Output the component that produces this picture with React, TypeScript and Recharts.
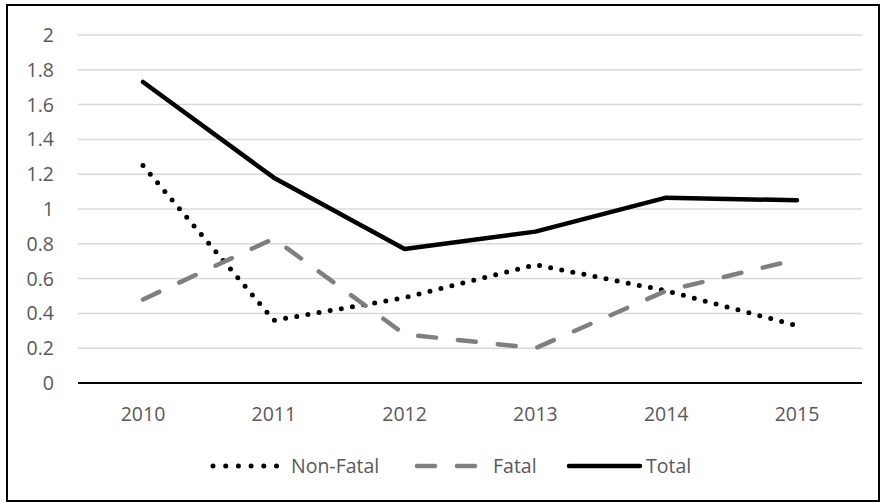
import { LineChart, Line, XAxis, YAxis, CartesianGrid, ReferenceLine } from "recharts";

const anos = ["2010", "2011", "2012", "2013", "2014", "2015"];
const naoFatal = [1.25, 0.36, 0.49, 0.68, 0.53, 0.33];
const fatal = [0.48, 0.83, 0.28, 0.2, 0.53, 0.71];
const total = [1.73, 1.18, 0.77, 0.87, 1.065, 1.05];
const ticksY = [0, 0.2, 0.4, 0.6, 0.8, 1, 1.2, 1.4, 1.6, 1.8, 2];

const dados = anos.map((ano, i) => ({
  ano,
  naoFatal: naoFatal[i],
  fatal: fatal[i],
  total: total[i],
}));

const fonte = "'Open Sans', Lato, sans-serif";
const cinzaTexto = "#595959";
const tamanho = 19.5;

function Legenda() {
  return (
    <svg width={860} height={44} style={{ display: "block", overflow: "visible" }}>
      <g transform="translate(0,22)">
        <line x1={213} x2={278} y1={0} y2={0} stroke="#000" strokeWidth={5} strokeDasharray="0 12.7" strokeLinecap="round" />
        <text x={291} y={0} dy="0.355em" fontSize={tamanho} fill={cinzaTexto} fontFamily={fonte}>Non-Fatal</text>
        <line x1={417} x2={476} y1={0} y2={0} stroke="#7f7f7f" strokeWidth={4.5} strokeDasharray="18 22" strokeLinecap="round" />
        <text x={493} y={0} dy="0.355em" fontSize={tamanho} fill={cinzaTexto} fontFamily={fonte}>Fatal</text>
        <line x1={569} x2={640} y1={0} y2={0} stroke="#000" strokeWidth={4.5} strokeLinecap="round" />
        <text x={646} y={0} dy="0.355em" fontSize={tamanho} fill={cinzaTexto} fontFamily={fonte}>Total</text>
      </g>
    </svg>
  );
}

export default function App() {
  return (
    <div style={{ position: "absolute", left: 0, top: 0, width: 881, height: 503, background: "#fff" }}>
      <div
        style={{
          position: "absolute",
          left: 6,
          top: 4,
          width: 874,
          height: 498,
          border: "2px solid #000",
          boxSizing: "border-box",
        }}
      />
      <div style={{ position: "absolute", left: 0, top: 0 }}>
        <LineChart width={881} height={503} data={dados} margin={{ top: 35, right: 19, left: 18, bottom: 80 }}>
          <CartesianGrid vertical={false} stroke="#d9d9d9" strokeWidth={1.5} />
          <XAxis
            dataKey="ano"
            axisLine={false}
            tickLine={false}
            tickSize={0}
            tickMargin={24}
            height={40}
            padding={{ left: 65, right: 65 }}
            tick={{ fontSize: tamanho, fill: cinzaTexto, fontFamily: fonte }}
          />
          <YAxis
            domain={[0, 2]}
            ticks={ticksY}
            interval={0}
            axisLine={false}
            tickLine={false}
            tickSize={0}
            tickMargin={24}
            width={60}
            tick={{ fontSize: tamanho, fill: cinzaTexto, fontFamily: fonte }}
          />
          <ReferenceLine y={0} stroke="#000" strokeWidth={1.8} />
          <Line
            dataKey="naoFatal"
            name="Non-Fatal"
            stroke="#000"
            strokeWidth={5}
            strokeDasharray="0 11.3"
            strokeLinecap="round"
            dot={false}
            activeDot={false}
            isAnimationActive={false}
          />
          <Line
            dataKey="fatal"
            name="Fatal"
            stroke="#7f7f7f"
            strokeWidth={4.5}
            strokeDasharray="18 22"
            strokeLinecap="round"
            dot={false}
            activeDot={false}
            isAnimationActive={false}
          />
          <Line
            dataKey="total"
            name="Total"
            stroke="#000"
            strokeWidth={4.5}
            strokeLinecap="round"
            strokeLinejoin="round"
            dot={false}
            activeDot={false}
            isAnimationActive={false}
          />
        </LineChart>
      </div>
      <div style={{ position: "absolute", left: 0, top: 444 }}>
        <Legenda />
      </div>
    </div>
  );
}
